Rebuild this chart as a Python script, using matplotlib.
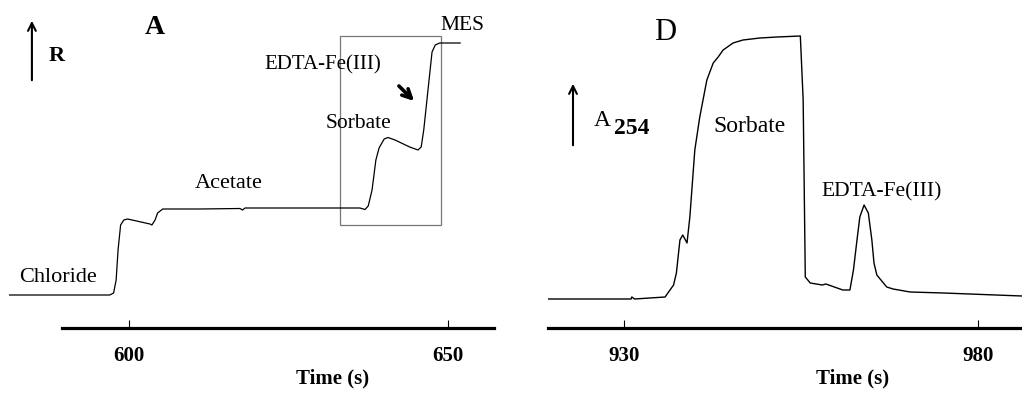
import matplotlib
matplotlib.use("Agg")
import matplotlib.pyplot as plt

plt.rcParams['font.family'] = ['Liberation Serif', 'DejaVu Serif']

# ── Panel A: conductivity-like response (R) vs time ─────────────────────────
a_time = [581.3, 597.0, 597.6, 598.0, 598.3, 598.7, 599.2, 599.8, 603.3, 603.6,
          604.1, 604.5, 605.3, 611.1, 617.4, 617.8, 618.2, 626.8, 636.2, 637.0,
          637.5, 638.1, 638.7, 639.2, 640.0, 640.6, 641.7, 644.0, 645.3, 645.8,
          646.2, 646.7, 647.2, 647.5, 648.0, 648.7, 650.3, 651.9]
a_signal = [0, 0, 2, 15, 45, 70, 75, 76, 71, 70,
            75, 82, 86, 86, 86.5, 85, 87, 87, 87, 85.5,
            89, 105, 135, 147, 156, 157.5, 155, 148, 145, 148,
            165, 195, 225, 243, 250, 252, 252, 252]
a_ticks = [600, 650]

# ── Panel D: absorbance at 254 nm vs time ───────────────────────────────────
d_time = [919.3, 931.0, 931.1, 931.5, 935.8, 937.0, 937.4, 937.9, 938.3, 938.9,
          939.3, 940.0, 940.7, 941.7, 942.6, 943.3, 944.0, 945.4, 946.8, 949.2,
          951.6, 954.9, 955.3, 955.6, 956.3, 958.0, 958.5, 960.9, 961.9, 962.4,
          962.9, 963.3, 963.9, 964.5, 965.0, 965.3, 965.7, 967.1, 968.0, 970.4,
          975.1, 986.2]
d_signal = [0, 0, 2, 0, 2, 14, 26, 59, 64, 56,
            82, 149, 182, 219, 236, 242, 249, 256, 259, 261,
            262, 263, 199, 22, 16, 14, 15, 9, 9, 29,
            59, 82, 94, 86, 59, 36, 24, 12, 10, 7,
            6, 3]
d_ticks = [930, 980]

fig = plt.figure(figsize=(10.22, 3.94), dpi=100)
axA = fig.add_axes([0, 66 / 394, 500 / 1022, 328 / 394])
axD = fig.add_axes([548 / 1022, 66 / 394, 474 / 1022, 328 / 394])


def style_axis(ax, xlim, ylim, spine_bounds, ticks, label_x):
    ax.set_xlim(*xlim)
    ax.set_ylim(*ylim)
    for s in ['top', 'right', 'left']:
        ax.spines[s].set_visible(False)
    ax.spines['bottom'].set_linewidth(2.3)
    ax.spines['bottom'].set_bounds(*spine_bounds)
    ax.set_yticks([])
    ax.set_xticks(ticks)
    ax.set_xticklabels([str(t) for t in ticks], fontweight='bold', fontsize=15)
    ax.tick_params(axis='x', direction='in', length=6, width=0.8, pad=13)
    ax.set_xlabel('Time (s)', fontweight='bold', fontsize=15)
    ax.xaxis.set_label_coords(label_x, -0.155)
    ax.xaxis.label.set_va('center')
    ax.patch.set_alpha(0)


# Panel A
axA.plot(a_time, a_signal, color='black', lw=0.9)
style_axis(axA, (579.8, 658.15), (-33, 295), (589.5, 657.2), a_ticks, 0.666)

axA.add_patch(plt.Rectangle((633.1, 70), 648.9 - 633.1, 259 - 70,
                            fill=False, edgecolor='#777777', lw=0.9))
axA.annotate('', xy=(584.8, 277), xytext=(584.8, 212),
             arrowprops=dict(arrowstyle='->', color='black', lw=1.5,
                             mutation_scale=14))
axA.text(588.7, 239, 'R', fontsize=16, fontweight='bold', ha='center', va='center')
axA.text(604.1, 267, 'A', fontsize=20, fontweight='bold', ha='center', va='center')
axA.text(588.9, 18, 'Chloride', fontsize=16, ha='center', va='center')
axA.text(615.7, 112, 'Acetate', fontsize=16, ha='center', va='center')
axA.text(635.9, 171, 'Sorbate', fontsize=15.5, ha='center', va='center')
axA.text(630.3, 230, 'EDTA-Fe(III)', fontsize=15, ha='center', va='center')
axA.text(652.2, 270, 'MES', fontsize=15.5, ha='center', va='center')
axA.annotate('', xy=(645.0, 192), xytext=(642.0, 211),
             arrowprops=dict(arrowstyle='->', color='black', lw=2.6,
                             mutation_scale=16))

# Panel D
axD.plot(d_time, d_signal, color='black', lw=1.0)
style_axis(axD, (919.27, 986.2), (-29, 299), (919.27, 986.2), d_ticks, 0.643)

axD.annotate('', xy=(922.8, 218), xytext=(922.8, 151),
             arrowprops=dict(arrowstyle='->', color='black', lw=1.5,
                             mutation_scale=14))
axD.text(935.8, 266, 'D', fontsize=22, ha='center', va='center')
axD.text(926.9, 179, 'A', fontsize=17, ha='center', va='center')
axD.text(931.1, 171, '254', fontsize=17, fontweight='bold', ha='center', va='center')
axD.text(947.7, 172, 'Sorbate', fontsize=17, ha='center', va='center')
axD.text(966.4, 107, 'EDTA-Fe(III)', fontsize=15.5, ha='center', va='center')

fig.savefig('out.png', dpi=100, facecolor='white')
